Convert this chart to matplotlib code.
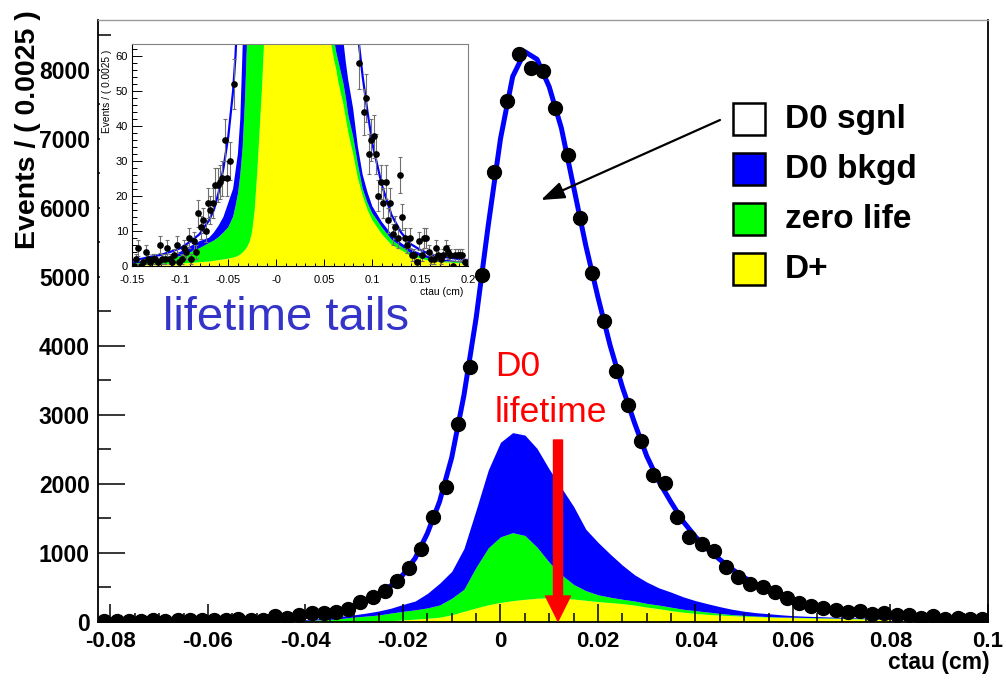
import numpy as np
import matplotlib
matplotlib.use('Agg')
import matplotlib.pyplot as plt
from matplotlib.patches import Rectangle
from matplotlib.ticker import MultipleLocator

plt.rcParams['font.family'] = ['Liberation Sans', 'DejaVu Sans']

W, H = 1006, 687


def fx(px):
    return px / W


def fy(py):
    return 1 - py / H


# ---- data -------------------------------------------------------------
# event counts, 0.0025 cm bins from -0.15 to 0.2 (140 bins)
bin_lo = -0.15
bin_w = 0.0025
counts_left_tail = [0, 2, 5, 0, 1, 4, 2, 1, 2, 2, 1, 6, 2, 2, 5, 2, 1, 3, 6, 1,
                    2, 5, 4, 8, 2, 7, 4]
counts_core = [15, 11, 13, 10, 18, 16, 18, 23, 23, 24, 25, 36, 25, 30, 80, 52,
               95, 120, 130, 145, 180, 290, 360, 450, 594, 780, 1050, 1520, 1955,
               2866, 3698, 5030, 6513, 7545, 8230, 8022, 7975, 7450, 6760, 5850, 5060,
               4364, 3632, 3143, 2620, 2120, 2006, 1520, 1232, 1121, 1029, 797, 643,
               546, 507, 435, 339, 267, 232, 194, 170, 145, 159, 112, 130, 97, 97,
               58, 80, 44, 48, 32, 36]
counts_right_tail = [37, 32, 20, 24, 18, 24, 13, 18, 9, 11, 8, 26, 14, 8, 6, 8, 3, 3, 1, 7,
                     3, 8, 8, 4, 2, 2, 5, 3, 2, 3, 5, 4, 3, 0, 3, 3, 3, 3, 1, 0]

# fit components (stacked tops): D+, +zero life, +D0 bkgd, total fit
comp_x = [-0.15, -0.14, -0.13, -0.12, -0.11, -0.10, -0.09, -0.08,
          -0.07, -0.065, -0.06, -0.055, -0.05, -0.045, -0.0425,
          -0.04, -0.0375, -0.035, -0.0325, -0.03,
          -0.0275, -0.025, -0.0225, -0.02, -0.0175, -0.015, -0.0125, -0.01, -0.0075, -0.005, -0.0025,
          0.0, 0.0025, 0.005, 0.0075, 0.01, 0.0125, 0.015, 0.0175, 0.02, 0.0225, 0.025, 0.0275, 0.03,
          0.0325, 0.035, 0.0375, 0.04, 0.0425, 0.045, 0.0475, 0.05, 0.0525, 0.055, 0.0575,
          0.06, 0.0625, 0.065, 0.0675, 0.07, 0.0725, 0.075, 0.0775, 0.08,
          0.085, 0.09, 0.095, 0.10, 0.11, 0.12, 0.13, 0.14, 0.15, 0.16, 0.17, 0.18, 0.19, 0.20]
dplus_top = [0.2, 0.2, 0.3, 0.4, 0.5, 0.6, 0.8, 1.0,
             1.2, 1.4, 1.6, 1.8, 2.0, 2.3, 2.5,
             2.8, 3.2, 3.8, 4.5, 5.5,
             7, 10, 16, 26, 38, 50, 65, 100, 150, 200, 245,
             280, 305, 325, 340, 348, 340, 328, 310, 292, 278, 262, 240, 212,
             188, 160, 138, 120, 106, 96, 88, 80, 73, 68, 63,
             59, 56, 52, 49, 46, 42, 38, 35, 32,
             25, 20, 16, 13, 9, 6, 4.5, 2.8, 2.0, 1.4, 1.0, 0.9, 0.7, 0.6]
zero_top = [0.6, 0.8, 1.1, 1.4, 2.0, 2.8, 3.8, 5.0,
            6.5, 7.2, 8.2, 9.5, 11, 14, 17,
            20.5, 26, 34, 48, 68,
            82, 97, 125, 150, 172, 200, 242, 340, 470, 790, 1070,
            1230, 1290, 1250, 1080, 860, 680, 540, 450, 390, 355, 325, 300, 265,
            240, 210, 180, 160, 140, 120, 103, 92, 82, 74, 68,
            65, 61, 58, 55, 52, 48, 43, 40, 37,
            29, 22, 18, 15, 11, 7.5, 5.5, 3.6, 2.7, 2.0, 1.4, 1.2, 1.0, 0.8]
bkgd_top = [1.0, 1.3, 1.7, 2.1, 2.8, 4.0, 5.5, 7.0,
            8, 9.5, 11.5, 14, 18, 22, 27,
            32, 42, 63, 80, 100,
            125, 155, 195, 250, 300, 410, 556, 730, 1060, 1620, 2200,
            2600, 2740, 2705, 2510, 2210, 1940, 1670, 1340, 1150, 980, 820, 680, 575,
            490, 428, 360, 305, 260, 218, 180, 152, 130, 116, 100,
            88, 80, 74, 68, 64, 58, 53, 49, 45,
            34, 26, 21, 17, 12.5, 9, 6.5, 4.7, 3.6, 2.6, 1.9, 1.6, 1.3, 1.1]
total_fit = [1.4, 2.0, 2.6, 3.1, 4.0, 5.0, 6.8, 9.0,
             13, 16, 21, 28, 37, 50, 60,
             75, 95, 130, 170, 235,
             300, 400, 520, 680, 920, 1280, 1740, 2380, 3280, 4400, 5750,
             7000, 7900, 8260, 8150, 7750, 7150, 6300, 5450, 4700, 4000, 3400, 2880, 2400,
             2030, 1730, 1450, 1230, 1050, 900, 760, 640, 540, 450, 375,
             310, 260, 220, 180, 150, 125, 105, 90, 80,
             66, 54, 44, 35, 23, 14.5, 9.5, 6.2, 4.5, 3.3, 2.7, 2.3, 1.9, 1.6]

main_xticks = [-0.08, -0.06, -0.04, -0.02, 0.0, 0.02, 0.04, 0.06, 0.08, 0.1]
main_xticklabels = ['-0.08', '-0.06', '-0.04', '-0.02', '0', '0.02', '0.04', '0.06', '0.08', '0.1']
main_yticks = [0, 1000, 2000, 3000, 4000, 5000, 6000, 7000, 8000]
inset_xticks = [-0.15, -0.1, -0.05, 0.0, 0.05, 0.1, 0.15, 0.2]
inset_xticklabels = ['-0.15', '-0.1', '-0.05', '-0', '0.05', '0.1', '0.15', '0.2']
inset_yticks = [0, 10, 20, 30, 40, 50, 60]

legend_names = ['D0 sgnl', 'D0 bkgd', 'zero life', 'D+']
legend_colors = ['#ffffff', '#0000ff', '#00ff00', '#ffff00']

counts = np.array(counts_left_tail + counts_core + counts_right_tail, dtype=float)
centers = bin_lo + bin_w * (np.arange(len(counts)) + 0.5)
cx = np.array(comp_x)
yel = np.array(dplus_top)
grn = np.array(zero_top)
blu = np.array(bkgd_top)
tot = np.array(total_fit)

# ---- figure -----------------------------------------------------------
fig = plt.figure(figsize=(W / 100, H / 100), dpi=100)
ax = fig.add_axes([fx(98.3), fy(621.7), fx(988) - fx(98.3), fy(19.5) - fy(621.7)])
ax.set_zorder(1)

m = (cx >= -0.04) & (cx <= 0.08)
ax.fill_between(cx[m], 0, yel[m], color='#ffff00', lw=0)
ax.fill_between(cx[m], yel[m], grn[m], color='#00ff00', lw=0)
ax.fill_between(cx[m], grn[m], blu[m], color='#0000ff', lw=0)
ax.plot(cx, tot, color='#0000ff', lw=3.6)

mm = (centers > -0.0825) & (centers < 0.1)
ax.errorbar(centers[mm], counts[mm], yerr=np.sqrt(counts[mm]), fmt='o', color='black',
            ms=10, elinewidth=1, capsize=0)

ax.set_xlim(-0.0825, 0.1)
ax.set_ylim(0, 8727)
ax.set_xticks(main_xticks)
ax.set_xticklabels(main_xticklabels, fontweight='bold')
ax.set_yticks(main_yticks)
ax.set_yticklabels([str(v) for v in main_yticks], fontweight='bold')
ax.xaxis.set_minor_locator(MultipleLocator(0.005))
ax.yaxis.set_minor_locator(MultipleLocator(500))
ax.tick_params(axis='x', which='major', direction='in', length=13, width=1.1, pad=6.5, labelsize=16)
ax.tick_params(axis='x', which='minor', direction='in', length=6.5, width=1.1)
ax.tick_params(axis='y', which='major', direction='in', length=19.5, width=1.1, pad=6, labelsize=16.5)
ax.tick_params(axis='y', which='minor', direction='in', length=9, width=1.1)
for s in ['left', 'bottom', 'right']:
    ax.spines[s].set_linewidth(1.3)
ax.spines['top'].set_color('#9a9a9a')
ax.spines['top'].set_linewidth(1.0)

fig.text(fx(28), fy(10), 'Events / ( 0.0025 )', rotation=90, ha='center', va='top',
         fontsize=20.5, fontweight='bold')
fig.text(fx(990), fy(662), 'ctau (cm)', ha='right', va='center', fontsize=16.5,
         fontweight='bold')

# white pad behind the inset
fig.add_artist(Rectangle((fx(100), fy(302)), fx(475) - fx(100), fy(37) - fy(302),
                         transform=fig.transFigure, facecolor='white',
                         edgecolor='none', zorder=2))

# ---- inset ------------------------------------------------------------
axi = fig.add_axes([fx(132.3), fy(265.7), fx(468.3) - fx(132.3), fy(44.3) - fy(265.7)])
axi.set_zorder(3)
axi.fill_between(cx, 0, yel, color='#ffff00', lw=0)
axi.fill_between(cx, yel, grn, color='#00ff00', lw=0)
axi.fill_between(cx, grn, blu, color='#0000ff', lw=0)
axi.plot(cx, tot, color='#0000ff', lw=1.6)
axi.errorbar(centers, counts, yerr=np.sqrt(counts), fmt='none', ecolor='#707070',
             elinewidth=0.8, capsize=1.5, capthick=0.8)
axi.plot(centers, counts, 'o', color='black', ms=3.8)
axi.set_xlim(-0.15, 0.2)
axi.set_ylim(0, 63.3)
axi.set_xticks(inset_xticks)
axi.set_xticklabels(inset_xticklabels)
axi.set_yticks(inset_yticks)
axi.xaxis.set_minor_locator(MultipleLocator(0.01))
axi.yaxis.set_minor_locator(MultipleLocator(2))
axi.tick_params(axis='x', which='major', direction='in', length=5, width=0.7, pad=7, labelsize=8)
axi.tick_params(axis='x', which='minor', direction='in', length=2.5, width=0.7)
axi.tick_params(axis='y', which='major', direction='in', length=7.2, width=0.7, pad=3, labelsize=8)
axi.tick_params(axis='y', which='minor', direction='in', length=3.6, width=0.7)
for s in ['top', 'right']:
    axi.spines[s].set_color('#808080')
for s in axi.spines.values():
    s.set_linewidth(0.8)

fig.text(fx(107), fy(50), 'Events / ( 0.0025 )', rotation=90, ha='center', va='top',
         fontsize=7.3, zorder=5)
fig.text(fx(463), fy(292), 'ctau (cm)', ha='right', va='center', fontsize=7.5, zorder=5)

# ---- annotations --------------------------------------------------------
fig.text(fx(163), fy(330), 'lifetime tails', ha='left', va='baseline', fontsize=34,
         color='#3434c8', zorder=5)
fig.text(fx(495), fy(376), 'D0', ha='left', va='baseline', fontsize=25.5, color='red', zorder=5)
fig.text(fx(495), fy(422), 'lifetime', ha='left', va='baseline', fontsize=25.5, color='red', zorder=5)

ax.annotate('', xy=(558, H - 621), xytext=(558, H - 440),
            xycoords='figure pixels', textcoords='figure pixels', annotation_clip=False,
            arrowprops=dict(facecolor='red', edgecolor='red', width=6.5, headwidth=18,
                            headlength=18, shrink=0))
ax.annotate('', xy=(541, H - 200), xytext=(720, H - 120),
            xycoords='figure pixels', textcoords='figure pixels', annotation_clip=False,
            arrowprops=dict(arrowstyle='-|>,head_length=0.55,head_width=0.2', color='black',
                            lw=1.6, mutation_scale=26, shrinkA=0, shrinkB=0))

# legend boxes
for k, (name, col) in enumerate(zip(legend_names, legend_colors)):
    yc = 119 + 50 * k
    fig.add_artist(Rectangle((fx(733), fy(yc + 16)), fx(765) - fx(733), fy(yc - 16) - fy(yc + 16),
                             transform=fig.transFigure, facecolor=col,
                             edgecolor='black', lw=1.8, zorder=5))
    fig.text(fx(785), fy(yc + 9), name, ha='left', va='baseline', fontsize=24,
             fontweight='bold', zorder=5)

fig.savefig('out.png', dpi=100)
